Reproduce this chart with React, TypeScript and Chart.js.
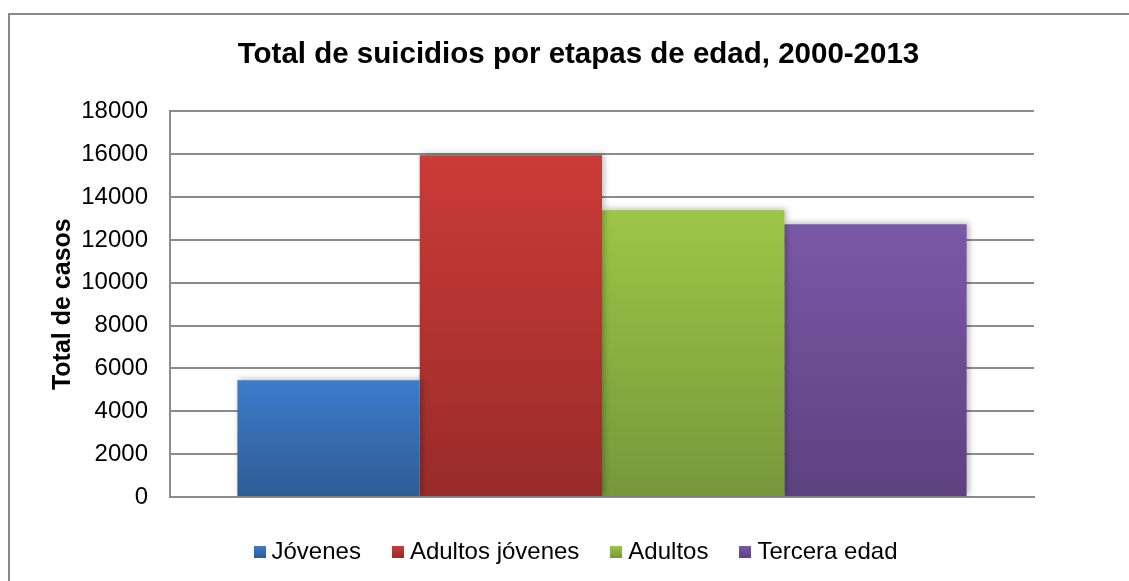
import React, { useEffect, useRef } from 'react';
import { Chart, registerables } from 'chart.js';

Chart.register(...registerables);

const categories = [''];
const seriesNames = ['Jóvenes', 'Adultos jóvenes', 'Adultos', 'Tercera edad'];
const jovenes = [5450];
const adultosJovenes = [15950];
const adultos = [13380];
const terceraEdad = [12730];
const yTicks = [0, 2000, 4000, 6000, 8000, 10000, 12000, 14000, 16000, 18000];
const titleText = 'Total de suicidios por etapas de edad, 2000-2013';
const yAxisTitle = 'Total de casos';

const topColors = ['#3C7CCA', '#CB3B37', '#9DC646', '#7B58A6'];
const bottomColors = ['#2D5C95', '#992B29', '#76973A', '#5D4180'];

const FONT = '"Liberation Sans", Arial, Helvetica, sans-serif';

function makeIcon(top: string, bottom: string): HTMLCanvasElement {
  const c = document.createElement('canvas');
  c.width = 12;
  c.height = 12;
  const x = c.getContext('2d')!;
  const g = x.createLinearGradient(0, 0, 0, 12);
  g.addColorStop(0, top);
  g.addColorStop(1, bottom);
  x.fillStyle = g;
  x.fillRect(0, 0, 12, 12);
  return c;
}

const shadowPlugin = {
  id: 'barShadow',
  beforeDatasetsDraw(chart: any) {
    const c = chart.ctx;
    c.save();
    c.shadowColor = 'rgba(0,0,0,0.28)';
    c.shadowBlur = 6;
    c.shadowOffsetX = 2;
    c.shadowOffsetY = -1;
  },
  afterDatasetsDraw(chart: any) {
    chart.ctx.restore();
  },
};

export default function App() {
  const ref = useRef<HTMLCanvasElement>(null);

  useEffect(() => {
    if (!ref.current) return;
    const series = [jovenes, adultosJovenes, adultos, terceraEdad];
    const icons = series.map((_, i) => makeIcon(topColors[i], bottomColors[i]));

    const gradientFor = (i: number) => (ctx: any) => {
      const chart = ctx.chart;
      const { chartArea, scales } = chart;
      if (!chartArea || ctx.raw === undefined) return topColors[i];
      const yTop = scales.y.getPixelForValue(ctx.raw);
      const yBot = scales.y.getPixelForValue(0);
      if (!isFinite(yTop) || !isFinite(yBot) || yTop === yBot) return topColors[i];
      const g = chart.ctx.createLinearGradient(0, yTop, 0, yBot);
      g.addColorStop(0, topColors[i]);
      g.addColorStop(1, bottomColors[i]);
      return g;
    };

    const chart = new Chart(ref.current, {
      type: 'bar',
      data: {
        labels: categories,
        datasets: series.map((d, i) => ({
          label: seriesNames[i],
          data: d,
          backgroundColor: gradientFor(i),
          borderWidth: 0,
          barPercentage: 1,
          categoryPercentage: 0.844,
        })),
      },
      options: {
        responsive: false,
        animation: false,
        devicePixelRatio: 1,
        layout: { padding: { left: 18, right: 0, top: 0, bottom: 7 } },
        plugins: {
          tooltip: { enabled: false },
          title: {
            display: true,
            text: titleText,
            color: '#000',
            font: { family: FONT, size: 29.5, weight: 'bold' },
            padding: { top: 22, bottom: 39 },
          },
          legend: {
            display: true,
            position: 'bottom',
            labels: {
              color: '#000',
              font: { family: FONT, size: 24 },
              usePointStyle: true,
              pointStyleWidth: 0.01,
              boxWidth: 12,
              boxHeight: 12,
              padding: 37,
              generateLabels: (c: any) =>
                (Chart.defaults.plugins.legend.labels.generateLabels as any)(c).map(
                  (it: any, i: number) => ({ ...it, pointStyle: icons[i] })
                ),
            },
          },
        },
        scales: {
          x: {
            grid: { display: false },
            border: { display: true, color: '#8c8c8c', width: 2 },
            ticks: { display: false },
            afterFit: (s: any) => {
              s.height = 6;
            },
          },
          y: {
            min: 0,
            max: 18000,
            afterBuildTicks: (s: any) => {
              s.ticks = yTicks.map((v) => ({ value: v }));
            },
            ticks: {
              color: '#000',
              font: { family: FONT, size: 24 },
              padding: 22,
              callback: (v: any) => String(v),
            },
            grid: { color: '#8c8c8c', lineWidth: 2, drawTicks: false },
            border: { display: true, color: '#8c8c8c', width: 2 },
            title: {
              display: true,
              text: yAxisTitle,
              color: '#000',
              font: { family: FONT, size: 25, weight: 'bold' },
              padding: { top: 20, bottom: 0 },
            },
            afterFit: (s: any) => {
              s.width = 142;
            },
          },
          yR: {
            position: 'right',
            display: true,
            grid: { display: false },
            border: { display: false },
            ticks: { display: false },
            afterFit: (s: any) => {
              s.width = 95;
            },
          },
        },
      } as any,
      plugins: [shadowPlugin],
    });
    return () => chart.destroy();
  }, []);

  return (
    <div
      style={{
        position: 'fixed',
        left: 8,
        top: 13,
        width: 1121,
        height: 568,
        boxSizing: 'border-box',
        borderTop: '2px solid #8a8a8a',
        borderLeft: '2px solid #8a8a8a',
        background: '#fff',
      }}
    >
      <canvas ref={ref} width={1119} height={566} style={{ display: 'block', width: 1119, height: 566 }} />
    </div>
  );
}
